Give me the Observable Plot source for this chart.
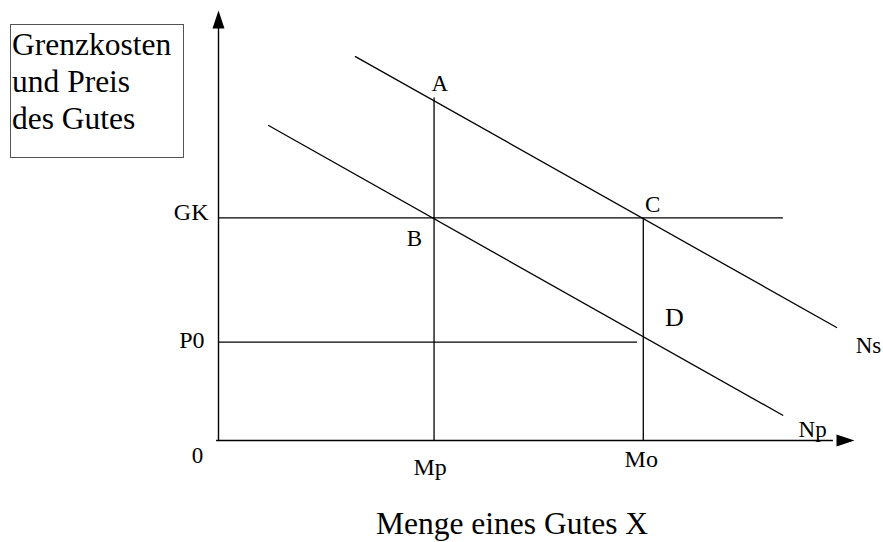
<!DOCTYPE html>
<html>
<head>
<meta charset="utf-8">
<script src="https://cdn.jsdelivr.net/npm/d3@7"></script>
<script src="https://cdn.jsdelivr.net/npm/@observablehq/plot@0.6"></script>
<style>
  body { margin: 0; background: #fff; }
  #wrap { position: relative; width: 883px; height: 542px; }
  #ytitle {
    position: absolute; left: 10px; top: 24px; width: 171px; height: 131px;
    border: 1px solid #555; font-family: "Liberation Serif", serif; font-size: 31.5px;
    line-height: 37px; padding: 1px 0 0 1px; box-sizing: content-box; color: #000;
  }
</style>
</head>
<body>
<div id="wrap"></div>
<script>
// ---- data (abstract units: x quantity 0..100, y price 0..100) ----
const quantityNames = ["Mp", "Mo"];
const quantityValues = [34, 67];
const quantityTops = [80, 52];            // where the verticals meet Ns
const priceNames = ["GK", "P0"];
const priceValues = [52, 23];
const priceLineEnds = [89.1, 66.1];
const curveNames = ["Ns", "Np"];
const curveStartX = [21.6, 7.9];
const curveStartY = [89.7, 73.6];
const curveEndX = [97.5, 89.0];
const curveEndY = [26.4, 5.9];
const pointNames = ["A", "B", "C", "D"];
const pointX = [34.9, 30.9, 68.5, 71.9];
const pointY = [83.4, 47.2, 55.1, 28.7];
const yTitle = ["Grenzkosten", "und Preis", "des Gutes"];
const xTitle = "Menge eines Gutes X";

// ---- tables built from the arrays ----
const curves = curveNames.flatMap((n, i) => [
  {name: n, x: curveStartX[i], y: curveStartY[i]},
  {name: n, x: curveEndX[i], y: curveEndY[i]}
]);
const hLines = priceNames.map((n, i) => ({name: n, y: priceValues[i], x2: priceLineEnds[i]}));
const vLines = quantityNames.map((n, i) => ({name: n, x: quantityValues[i], y2: quantityTops[i]}));
const points = pointNames.map((n, i) => ({t: n, x: pointX[i], y: pointY[i]}));

const arrowHead = {
  draw(ctx) { ctx.moveTo(0, -2); ctx.lineTo(6, 16); ctx.lineTo(-6, 16); ctx.closePath(); }
};

const font = "Liberation Serif";
const chart = Plot.plot({
  width: 883, height: 542,
  marginLeft: 218, marginRight: 31, marginTop: 12, marginBottom: 102,
  x: {domain: [0, 100], axis: null},
  y: {domain: [0, 100], axis: null},
  style: {fontFamily: font, background: "white", color: "black", overflow: "visible"},
  marks: [
    // axes
    Plot.ruleX([0], {y1: 0, y2: 97, stroke: "black", strokeWidth: 1.4}),
    Plot.ruleY([0], {x1: -0.3, x2: 97, stroke: "black", strokeWidth: 1.4}),
    Plot.dot([{x: 0, y: 100}], {x: "x", y: "y", symbol: arrowHead, fill: "black", stroke: "none", r: 6}),
    Plot.dot([{x: 100, y: 0}], {x: "x", y: "y", symbol: arrowHead, fill: "black", stroke: "none", r: 6, rotate: 90}),
    // horizontal price lines
    Plot.ruleY(hLines, {y: "y", x1: 0, x2: "x2", stroke: "black", strokeWidth: 1.3}),
    // vertical quantity lines
    Plot.ruleX(vLines, {x: "x", y1: 0, y2: "y2", stroke: "black", strokeWidth: 1.3}),
    // demand curves
    Plot.line(curves, {x: "x", y: "y", z: "name", stroke: "black", strokeWidth: 1.3}),
    // point labels
    Plot.text(points.filter(d => d.t !== "D"), {x: "x", y: "y", text: "t", fontSize: 23, fill: "black"}),
    Plot.text(points.filter(d => d.t === "D"), {x: "x", y: "y", text: "t", fontSize: 26, fill: "black"}),
    // curve names
    Plot.text(curveNames, {x: (d, i) => curveEndX[i] + [3, 2.5][i], y: (d, i) => curveEndY[i] + [-4.3, -3.4][i],
      text: d => d, textAnchor: "start", fontSize: 23, fill: "black"}),
    // price tick labels
    Plot.text([priceNames[0]], {x: 0, y: priceValues[0] + 1.3, text: d => d,
      textAnchor: "end", dx: -10, fontSize: 24, fill: "black"}),
    Plot.text([priceNames[1]], {x: 0, y: priceValues[1] + 0.3, text: d => d,
      textAnchor: "end", dx: -14, fontSize: 24, fill: "black"}),
    // quantity tick labels
    Plot.text([quantityNames[0]], {x: quantityValues[0], y: 0, text: d => d,
      dx: -4, dy: 17, fontSize: 24, fill: "black", lineAnchor: "top"}),
    Plot.text([quantityNames[1]], {x: quantityValues[1], y: 0, text: d => d,
      dx: -2, dy: 9, fontSize: 24, fill: "black", lineAnchor: "top"}),
    // origin
    Plot.text(["0"], {x: 0, y: 0, text: d => d, dx: -21, dy: 15, fontSize: 23, fill: "black"}),
    // x title
    Plot.text([xTitle], {x: 46.3, y: 0, text: d => d, dy: 83, fontSize: 31.5, fill: "black"})
  ]
});
document.getElementById("wrap").appendChild(chart);
const box = document.createElement("div");
box.id = "ytitle";
box.innerHTML = yTitle.join("<br>");
document.getElementById("wrap").appendChild(box);
</script>
</body>
</html>
